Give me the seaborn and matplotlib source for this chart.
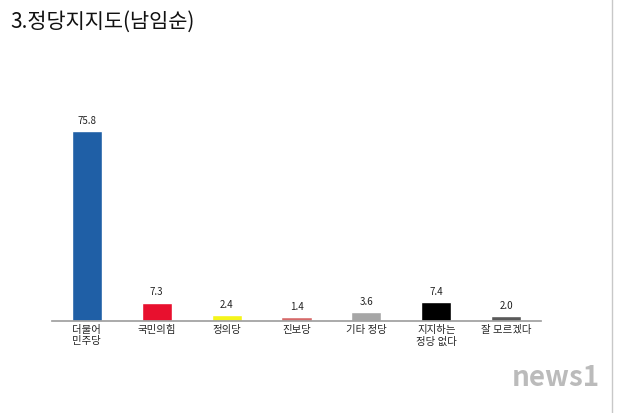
import matplotlib
matplotlib.use("Agg")
import matplotlib.pyplot as plt
import seaborn as sns
import pandas as pd

categories = ["더불어\n민주당", "국민의힘", "정의당", "진보당", "기타 정당", "지지하는\n정당 없다", "잘 모르겠다"]
values = [75.8, 7.3, 2.4, 1.4, 3.6, 7.4, 2.0]
colors = ["#1f5fa6", "#e8102e", "#f5f51a", "#d66a6a", "#a6a6a6", "#000000", "#595959"]

sns.set_theme(style="white")
plt.rcParams['font.family'] = ['Noto Sans CJK KR', 'DejaVu Sans']

fig = plt.figure(figsize=(6.18, 4.14), dpi=100)
ax = fig.add_axes([52/618, 1-322/414, (541-52)/618, (322-121.5)/414])
df = pd.DataFrame({"cat": categories, "val": values})
sns.barplot(data=df, x="cat", y="val", hue="cat", palette=colors, width=0.43, ax=ax, legend=False, saturation=1)
ax.set_ylim(0, 80)
for i, v in enumerate(values):
    ax.text(i, v + 2.5, f"{v:.1f}", ha="center", va="bottom", fontsize=7, color="#222")
for s in ["top", "right", "left"]:
    ax.spines[s].set_visible(False)
ax.spines["bottom"].set_color("#a0a0a0")
ax.set_yticks([])
ax.set_xlabel(""); ax.set_ylabel("")
ax.tick_params(axis="x", length=0, labelsize=7.5, pad=2)
for t in ax.get_xticklabels():
    t.set_verticalalignment("top")
fig.text(10/618, 1-22/414, "3.정당지지도(남임순)", fontsize=15, va="center", ha="left", color="#111")
fig.add_artist(plt.Line2D([612/618, 612/618], [0, 1], color="#c8c8c8", lw=1))
fig.text(600/618, 1-378/414, "news1", fontsize=20, ha="right", va="center", color="#bbbbbb", style="italic", weight="bold")
fig.savefig("out.png", dpi=100)
